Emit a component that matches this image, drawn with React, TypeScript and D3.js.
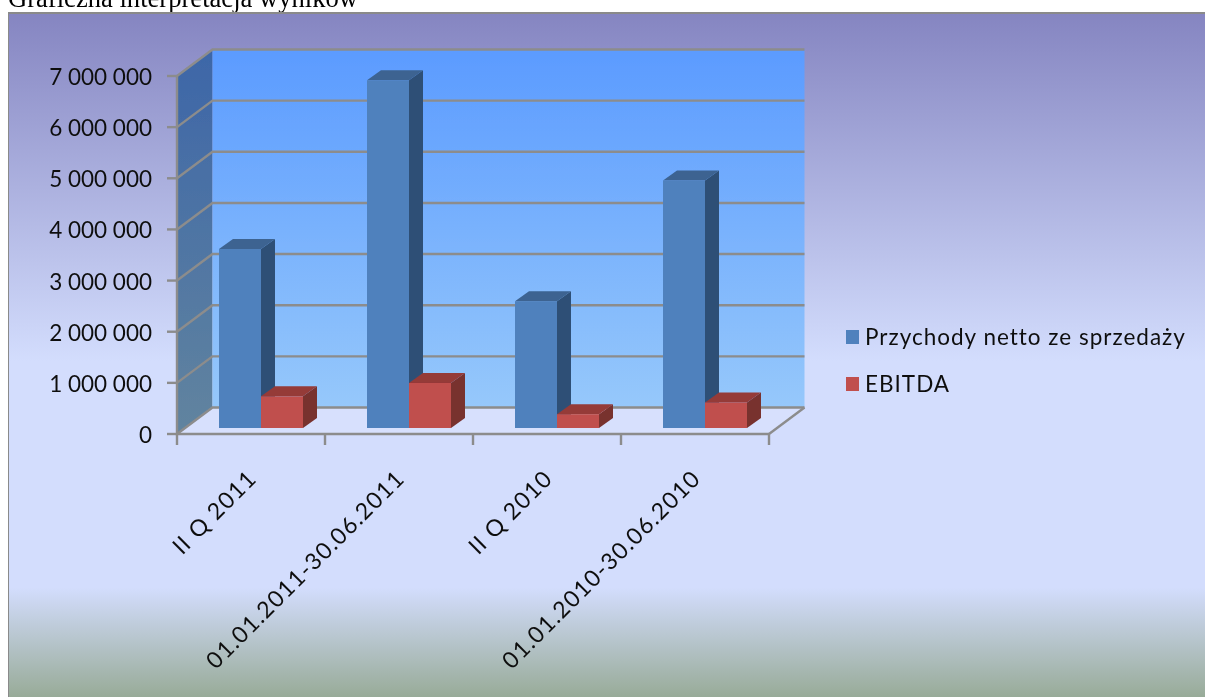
import React from "react";
import * as d3 from "d3";

const categories = ["II Q 2011", "01.01.2011-30.06.2011", "II Q 2010", "01.01.2010-30.06.2010"];
const seriesNames = ["Przychody netto ze sprzedaży", "EBITDA"];
const revenue = [3500000, 6800000, 2480000, 4840000];
const ebitda = [620000, 880000, 270000, 500000];
const yTicks = [0, 1000000, 2000000, 3000000, 4000000, 5000000, 6000000, 7000000];
const title = "Graficzna interpretacja wyników";

const W = 1205, H = 697;
const font = "Lato, 'Open Sans', sans-serif";
const axisGrey = "#8c8c8c";
const fmt = (v: number) => d3.format(",")(v).replace(/,/g, " ");

export default function App() {
  const y = d3.scaleLinear().domain([0, 7000000]).range([434, 76]);
  const x = d3.scaleBand<string>().domain(categories).range([177, 769]);
  const depthX = 35.5, depthY = -26.5;
  const inset = (x.bandwidth() - 84) / 2;
  const barDX = 14, barDY = -10;
  const baseShiftX = 10, baseShiftY = -6;
  const sub = d3.scaleBand<string>().domain(seriesNames).range([0, 84]);
  const colors = [
    { front: "#4f81bd", top: "#3c6391", side: "#2f5076" },
    { front: "#c0504d", top: "#953a38", side: "#78302e" },
  ];
  const bars = categories.flatMap((c, i) =>
    [revenue[i], ebitda[i]].map((v, s) => {
      const left = (x(c) as number) + inset + (sub(seriesNames[s]) as number) + baseShiftX;
      const w = sub.bandwidth();
      const top = y(v) + baseShiftY;
      const bottom = y(0) + baseShiftY;
      return { key: c + s, left, w, top, bottom, color: colors[s] };
    })
  );
  return (
    <svg width={W} height={H} viewBox={`0 0 ${W} ${H}`} style={{ position: "absolute", left: 0, top: 0, display: "block" }}>
      <defs>
        <linearGradient id="bg" x1="0" y1="0" x2="0" y2="1">
          <stop offset="0" stopColor="#8585c1" />
          <stop offset="0.51" stopColor="#d3ddfd" />
          <stop offset="0.84" stopColor="#d3ddfd" />
          <stop offset="1" stopColor="#98ab98" />
        </linearGradient>
        <linearGradient id="wall" x1="0" y1="0" x2="0" y2="1">
          <stop offset="0" stopColor="#5b9bff" />
          <stop offset="1" stopColor="#96c8fb" />
        </linearGradient>
        <linearGradient id="side" x1="0" y1="0" x2="0" y2="1">
          <stop offset="0" stopColor="#3d66a8" />
          <stop offset="1" stopColor="#61849f" />
        </linearGradient>
        <filter id="soft" x="0" y="0" width="100%" height="100%">
          <feGaussianBlur stdDeviation="0.45" />
        </filter>
      </defs>
      <rect width={W} height={H} fill="#fff" />
      <g filter="url(#soft)">
        <text x={8} y={7} fontFamily="'Liberation Serif', serif" fontSize={26.6} fill="#000">{title}</text>
        <rect x={8} y={13} width={W} height={H - 13} fill="url(#bg)" />
        <path d={`M${W},13 H8 V${H}`} fill="none" stroke="#8a8a8a" strokeWidth={2} />

        {/* side wall, back wall, floor */}
        <polygon points={`177,${y(7000000)} ${177 + depthX},${y(7000000) + depthY} ${177 + depthX},${y(0) + depthY} 177,${y(0)}`} fill="url(#side)" />
        <rect x={177 + depthX} y={y(7000000) + depthY} width={592} height={y(0) - y(7000000)} fill="url(#wall)" />
        <polygon points={`177,${y(0)} ${177 + depthX},${y(0) + depthY} ${769 + depthX},${y(0) + depthY} 769,${y(0)}`} fill="#d7e0fd" />

        {/* gridlines */}
        {yTicks.map((t) => (
          <path
            key={t}
            d={`M177,${y(t)} L${177 + depthX},${y(t) + depthY} H${769 + depthX}`}
            fill="none"
            stroke={axisGrey}
            strokeWidth={2.4}
          />
        ))}
        <path d={`M769,${y(0)} L${769 + depthX},${y(0) + depthY}`} stroke={axisGrey} strokeWidth={2.4} />
        <path d={`M177,${y(7000000)} V${y(0)} H769`} fill="none" stroke={axisGrey} strokeWidth={2.4} />

        {/* y axis */}
        {yTicks.map((t) => (
          <g key={t}>
            <line x1={167} x2={177} y1={y(t)} y2={y(t)} stroke={axisGrey} strokeWidth={2.4} />
            <text x={152} y={y(t) + 9} textAnchor="end" fontFamily={font} fontSize={22.5} fill="#111">{fmt(t)}</text>
          </g>
        ))}

        {/* x axis */}
        {[...categories.map((c) => x(c) as number), 769].map((px) => (
          <line key={px} x1={px} x2={px} y1={434} y2={445} stroke={axisGrey} strokeWidth={2.4} />
        ))}
        {categories.map((c) => {
          const cx = (x(c) as number) + x.bandwidth() / 2 + 7;
          return (
            <text key={c} transform={`translate(${cx},480) rotate(-45)`} textAnchor="end" fontFamily={font} fontSize={23} letterSpacing={1.2} fill="#111">
              {c}
            </text>
          );
        })}

        {/* bars */}
        {bars.map((b) => (
          <g key={b.key}>
            <polygon points={`${b.left + b.w},${b.top} ${b.left + b.w + barDX},${b.top + barDY} ${b.left + b.w + barDX},${b.bottom + barDY} ${b.left + b.w},${b.bottom}`} fill={b.color.side} />
            <polygon points={`${b.left},${b.top} ${b.left + barDX},${b.top + barDY} ${b.left + b.w + barDX},${b.top + barDY} ${b.left + b.w},${b.top}`} fill={b.color.top} />
            <rect x={b.left} y={b.top} width={b.w} height={b.bottom - b.top} fill={b.color.front} />
          </g>
        ))}

        {/* legend */}
        {seriesNames.map((n, i) => (
          <g key={n}>
            <rect x={846} y={330 + i * 47} width={13} height={14} fill={colors[i].front} />
            <text x={865} y={345 + i * 47} fontFamily={font} fontSize={22.5} letterSpacing={1} fill="#111">{n}</text>
          </g>
        ))}
      </g>
    </svg>
  );
}
